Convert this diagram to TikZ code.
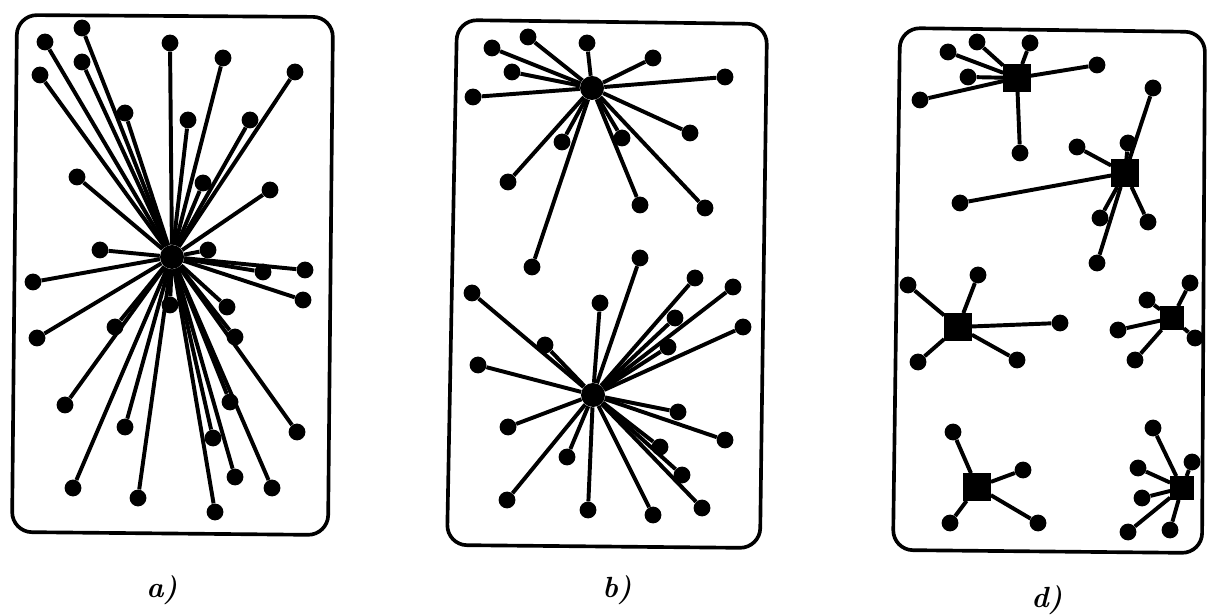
\documentclass[tikz,border=0pt]{standalone}
\usepackage{tikz}
\usetikzlibrary{positioning}

\tikzset{
    dot/.style={circle, fill, inner sep=0pt, minimum size=0.42cm},
    hub/.style={circle, fill, inner sep=0pt, minimum size=0.6cm},
    sqhub/.style={rectangle, fill, inner sep=0pt, minimum size=0.68cm},
    spoke/.style={line width=2.8pt},
    frame/.style={line width=2.6pt, rounded corners=0.5cm},
    lbl/.style={font=\huge\bfseries\itshape}
}

\begin{document}
\begin{tikzpicture}[x=0.025cm, y=-0.025cm]
    \useasboundingbox (0,0) rectangle (1209,615);

    % frames
    \draw[frame] (17,15) -- (333,17) -- (328,535) -- (12,532) -- cycle;
    \draw[frame] (457,20) -- (767,24) -- (760,548) -- (447,545) -- cycle;
    \draw[frame] (900,28) -- (1205,32) -- (1202,553) -- (893,550) -- cycle;

    % a) one centre
    \node[hub] (ha) at (172,257) {};
    \foreach \x/\y [count=\i] in {45/42, 82/28, 82/62, 40/75, 170/43, 223/58, 295/72,
        125/113, 188/120, 250/120, 77/177, 203/183, 270/190, 100/250, 208/250,
        33/282, 305/270, 263/272, 303/300, 227/307, 170/305, 37/338, 115/327,
        235/337, 65/405, 125/427, 230/402, 297/432, 213/438, 73/488, 138/498,
        235/477, 272/488, 215/512} {
        \node[dot] (a\i) at (\x,\y) {};
        \draw[spoke] (ha) -- (a\i);
    }

    % b) two centres
    \node[hub] (hb1) at (592,88) {};
    \foreach \x/\y [count=\i] in {492/48, 528/37, 587/43, 653/58, 725/77, 512/72,
        473/97, 690/133, 562/142, 622/138, 508/182, 640/205, 705/208, 532/267} {
        \node[dot] (b1\i) at (\x,\y) {};
        \draw[spoke] (hb1) -- (b1\i);
    }
    \node[hub] (hb2) at (593,395) {};
    \foreach \x/\y [count=\i] in {640/258, 695/278, 733/287, 743/327, 675/318,
        668/347, 600/303, 472/293, 545/345, 478/365, 678/412, 725/440, 660/447,
        682/475, 508/427, 567/457, 507/500, 588/510, 653/515, 702/508} {
        \node[dot] (b2\i) at (\x,\y) {};
        \draw[spoke] (hb2) -- (b2\i);
    }

    % d) six centres
    \node[sqhub] (d1) at (1017,78) {};
    \foreach \x/\y [count=\i] in {948/52, 977/42, 1030/43, 1097/65, 968/77, 920/100, 1020/153} {
        \node[dot] (d1\i) at (\x,\y) {};
        \draw[spoke] (d1) -- (d1\i);
    }
    \node[sqhub] (d2) at (1125,173) {};
    \foreach \x/\y [count=\i] in {1153/88, 1128/143, 1077/147, 960/203, 1100/218, 1148/222, 1097/263} {
        \node[dot] (d2\i) at (\x,\y) {};
        \draw[spoke] (d2) -- (d2\i);
    }
    \node[sqhub] (d3) at (958,327) {};
    \foreach \x/\y [count=\i] in {908/285, 978/275, 1060/323, 918/362, 1017/360} {
        \node[dot] (d3\i) at (\x,\y) {};
        \draw[spoke] (d3) -- (d3\i);
    }
    \node[sqhub, minimum size=0.58cm] (d4) at (1172,318) {};
    \foreach \x/\y [count=\i] in {1190/283, 1147/300, 1118/330, 1195/338, 1135/360} {
        \node[dot] (d4\i) at (\x,\y) {};
        \draw[spoke] (d4) -- (d4\i);
    }
    \node[sqhub] (d5) at (977,487) {};
    \foreach \x/\y [count=\i] in {953/432, 1023/470, 950/523, 1038/523} {
        \node[dot] (d5\i) at (\x,\y) {};
        \draw[spoke] (d5) -- (d5\i);
    }
    \node[sqhub, minimum size=0.58cm] (d6) at (1182,488) {};
    \foreach \x/\y [count=\i] in {1153/428, 1192/462, 1138/468, 1142/498, 1128/532, 1170/530} {
        \node[dot] (d6\i) at (\x,\y) {};
        \draw[spoke] (d6) -- (d6\i);
    }

    % labels
    \node[lbl] (la) at (162,590) {a)};
    \node[lbl] (lb) at (617,590) {b)};
    \node[lbl] (ld) at (1047,600) {d)};
\end{tikzpicture}
\end{document}
